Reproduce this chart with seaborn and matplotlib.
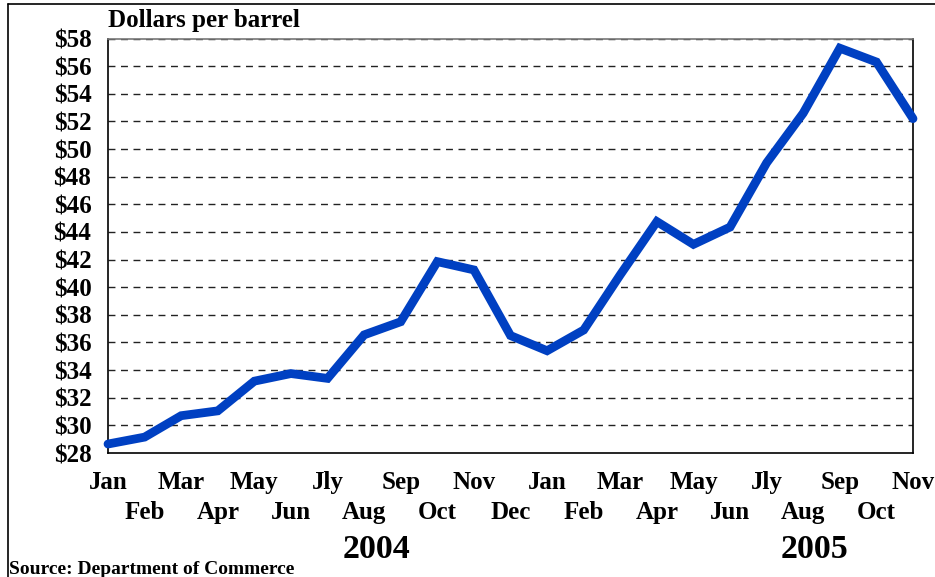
import matplotlib
matplotlib.use("Agg")
import matplotlib.pyplot as plt
import seaborn as sns
import pandas as pd
from matplotlib.lines import Line2D

months = ["Jan", "Feb", "Mar", "Apr", "May", "Jun", "Jly", "Aug", "Sep", "Oct", "Nov", "Dec",
          "Jan", "Feb", "Mar", "Apr", "May", "Jun", "Jly", "Aug", "Sep", "Oct", "Nov"]
prices = [28.65, 29.15, 30.7, 31.05, 33.2, 33.75, 33.4, 36.55, 37.5, 41.85, 41.25, 36.5,
          35.4, 36.9, 40.9, 44.75, 43.1, 44.35, 49.0, 52.6, 57.3, 56.3, 52.2]
yticks = list(range(28, 59, 2))
years = ["2004", "2005"]

sns.set_theme(style="white")
plt.rcParams['font.family'] = ['Liberation Serif', 'DejaVu Serif']
plt.rcParams['font.weight'] = 'bold'
plt.rcParams['text.color'] = 'black'
plt.rcParams['xtick.color'] = 'black'
plt.rcParams['ytick.color'] = 'black'

df = pd.DataFrame({"idx": range(len(prices)), "price": prices})

W, H = 935, 577
fig = plt.figure(figsize=(W / 100, H / 100), dpi=100)
ax = fig.add_axes([108 / W, 1 - 453 / H, (913 - 108) / W, (453 - 38.5) / H])

for y in yticks[1:]:
    ax.axhline(y, color="#222222", lw=1.0, ls=(0, (5, 4)), zorder=1)

sns.lineplot(data=df, x="idx", y="price", ax=ax, color="#0040C2", lw=6.3,
             solid_capstyle="round", solid_joinstyle="miter", zorder=3, clip_on=False)

ax.set_xlim(0, len(prices) - 1)
ax.set_ylim(28, 58)
ax.set_yticks(yticks)
ax.set_yticklabels([f"${v}" for v in yticks], fontsize=18, fontweight="bold", color="black")
ax.set_xticks(range(len(months)))
ax.set_xticklabels([])
ax.tick_params(axis="y", length=0, pad=12)
ax.tick_params(axis="x", length=0)
ax.set_xlabel("")
ax.set_ylabel("")
for s in ["left", "bottom", "right"]:
    ax.spines[s].set_color("black")
    ax.spines[s].set_linewidth(1.2)
ax.spines["top"].set_color("#777777")
ax.spines["top"].set_linewidth(1.2)

xt = ax.get_xaxis_transform()
ax_h = 453 - 38.5
for i, m in enumerate(months):
    ypix = 489 if i % 2 == 0 else 519
    yfrac = -(ypix - 453) / ax_h
    ax.text(i, yfrac, m, transform=xt, ha="center", va="baseline", fontsize=18,
            fontweight="bold", color="black", clip_on=False)

fig.text(108 / W, 1 - 21 / H, "Dollars per barrel", fontsize=18, fontweight="bold",
         ha="left", va="center")
fig.text(377 / W, 1 - 549 / H, years[0], fontsize=24.5, fontweight="bold", ha="center", va="center")
fig.text(815 / W, 1 - 549 / H, years[1], fontsize=24.5, fontweight="bold", ha="center", va="center")
fig.text(9 / W, 1 - 570 / H, "Source: Department of Commerce", fontsize=14, fontweight="bold",
         ha="left", va="center")

fig.add_artist(Line2D([8 / W, 1], [1 - 4 / H, 1 - 4 / H], color="black", lw=1.2,
                      transform=fig.transFigure))
fig.add_artist(Line2D([8 / W, 8 / W], [0, 1 - 4 / H], color="black", lw=1.2,
                      transform=fig.transFigure))

fig.savefig("out.png", dpi=100)
